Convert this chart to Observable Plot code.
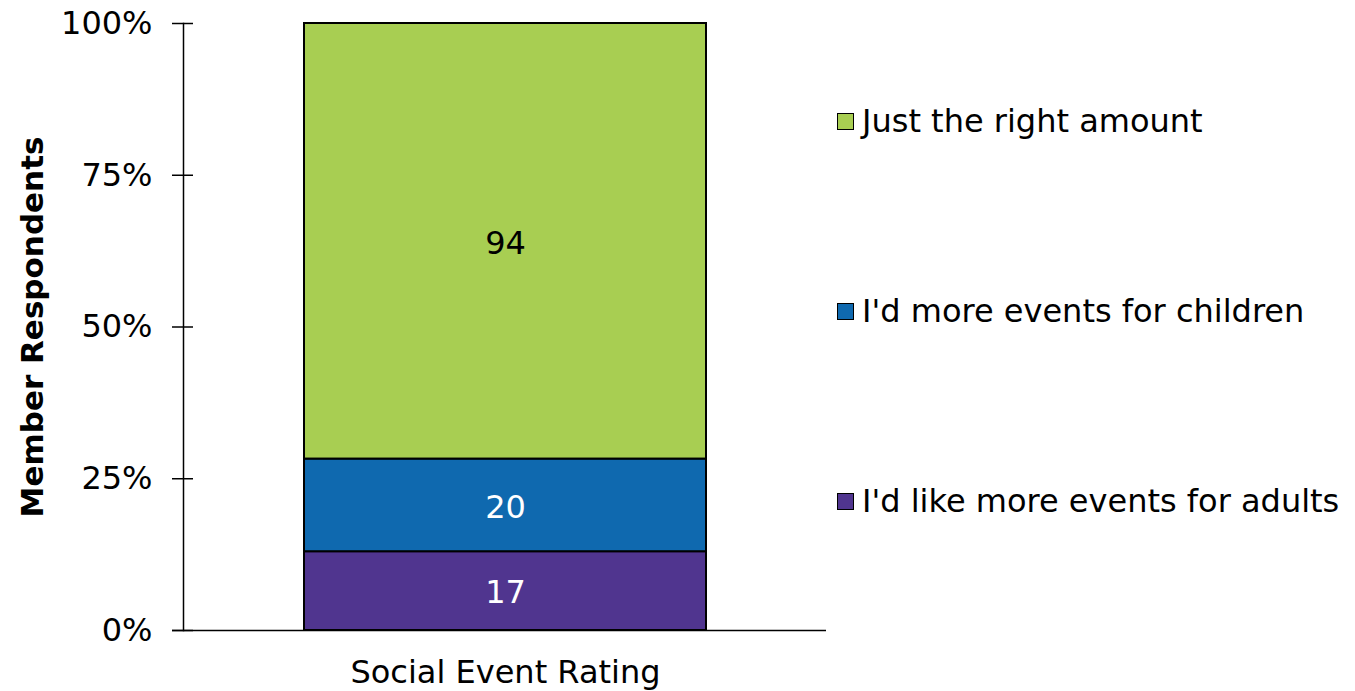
<!DOCTYPE html>
<html>
<head>
<meta charset="utf-8">
<script src="https://cdn.jsdelivr.net/npm/d3@7"></script>
<script src="https://cdn.jsdelivr.net/npm/@observablehq/plot@0.6"></script>
<style>
  body { margin: 0; background: #fff; }
  #wrap { position: relative; width: 1355px; height: 691px; font-family: "DejaVu Sans", Verdana, sans-serif; }
  .legend { position: absolute; left: 837px; top: 0; }
  .row { position: absolute; left: 0; display: flex; align-items: center; white-space: nowrap; font-size: 32px; color: #000; height: 40px; }
  .sw { width: 15px; height: 15px; border: 1.5px solid #000; margin-right: 8px; }
</style>
</head>
<body>
<div id="wrap"></div>
<script>
const question = "Social Event Rating";
const categories = ["I'd like more events for adults", "I'd more events for children", "Just the right amount"];
const counts = [17, 20, 94];
const colors = ["#50358f", "#0f69af", "#a8ce52"];
const yTicks = [0, 0.25, 0.5, 0.75, 1];
const legendOrder = ["Just the right amount", "I'd more events for children", "I'd like more events for adults"];

const data = categories.map((c, i) => ({q: question, category: c, value: counts[i]}));
const darkLabels = new Set([categories[0], categories[1]]);
const FS = 32;

const plot = Plot.plot({
  width: 1355,
  height: 691,
  marginLeft: 183,
  marginRight: 529,
  marginTop: 23,
  marginBottom: 61,
  style: {fontFamily: "'DejaVu Sans', Verdana, sans-serif", fontSize: FS + "px", color: "#000", background: "transparent"},
  x: {domain: [question], padding: 0.2308, label: null},
  y: {domain: [0, 1], label: null},
  color: {domain: categories, range: colors},
  marks: [
    Plot.barY(data, Plot.stackY({x: "q", y: "value", fill: "category", z: "category", offset: "normalize", stroke: "#000", strokeWidth: 2})),
    Plot.text(data, Plot.stackY({x: "q", y: "value", z: "category", offset: "normalize", text: d => darkLabels.has(d.category) ? String(d.value) : "", fill: "#fff", fontSize: FS, dy: 2})),
    Plot.text(data, Plot.stackY({x: "q", y: "value", z: "category", offset: "normalize", text: d => darkLabels.has(d.category) ? "" : String(d.value), fill: "#000", fontSize: FS, dy: 2})),
    Plot.axisY({ticks: yTicks, tickSize: 21, dx: 10, tickFormat: () => "", stroke: "#000", strokeWidth: 1.5, label: null}),
    Plot.axisY({ticks: yTicks, tickSize: 0, tickPadding: 31, tickFormat: d3.format(".0%"), fontSize: FS, fill: "#000", label: null}),
    Plot.axisX({tickSize: 0, tickPadding: 30, fontSize: FS, fill: "#000", label: null}),
    Plot.frame({anchor: "left", stroke: "#000", strokeWidth: 1.5}),
    Plot.ruleY([0], {stroke: "#000", strokeWidth: 1.5, insetLeft: -11}),
    Plot.text(["Member Respondents"], {frameAnchor: "left", textAnchor: "middle", rotate: -90, dx: -150, text: d => d, fontWeight: "bold", fontSize: 31, fill: "#000"})
  ]
});
const wrap = document.getElementById("wrap");
wrap.appendChild(plot);

const legend = document.createElement("div");
legend.className = "legend";
const rowCenters = [121, 311, 501];
legendOrder.forEach((c, i) => {
  const row = document.createElement("div");
  row.className = "row";
  row.style.top = (rowCenters[i] - 20) + "px";
  const sw = document.createElement("div");
  sw.className = "sw";
  sw.style.background = colors[categories.indexOf(c)];
  const t = document.createElement("span");
  t.textContent = c;
  row.appendChild(sw);
  row.appendChild(t);
  legend.appendChild(row);
});
wrap.appendChild(legend);
</script>
</body>
</html>
